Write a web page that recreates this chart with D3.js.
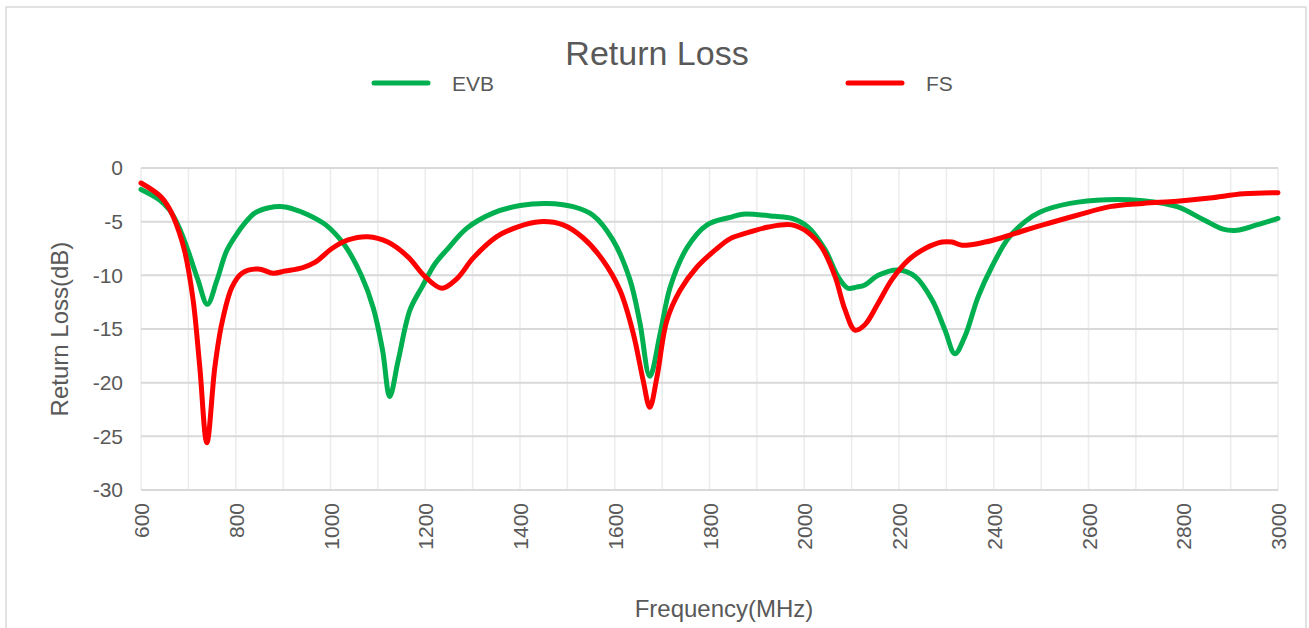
<!DOCTYPE html>
<html>
<head>
<meta charset="utf-8">
<script src="https://cdn.jsdelivr.net/npm/d3@7"></script>
<style>
  html, body { margin: 0; padding: 0; background: #fff; }
  svg { display: block; font-family: "Liberation Sans", Arial, sans-serif; }
</style>
</head>
<body>
<svg id="chart" width="1309" height="628"></svg>
<script>
const chartTitle = "Return Loss";
const xTitle = "Frequency(MHz)";
const yTitle = "Return Loss(dB)";
const seriesNames = ["EVB", "FS"];
const seriesColors = ["#00b050", "#ff0000"];
const xTicks = [600, 800, 1000, 1200, 1400, 1600, 1800, 2000, 2200, 2400, 2600, 2800, 3000];
const yTicks = [0, -5, -10, -15, -20, -25, -30];

const evbFreq = [600, 640, 660, 680, 700, 720, 740, 760, 780, 800, 820, 840, 870, 900, 920, 950, 990, 1030, 1065, 1090, 1110, 1125, 1143, 1168, 1193, 1221, 1246, 1288, 1343, 1400, 1457, 1512, 1554, 1596, 1632, 1653, 1674, 1696, 1717, 1753, 1795, 1843, 1870, 1938, 1974, 2008, 2044, 2071, 2092, 2110, 2128, 2156, 2198, 2234, 2270, 2297, 2318, 2339, 2367, 2396, 2430, 2466, 2498, 2561, 2639, 2715, 2787, 2842, 2884, 2913, 2955, 3000];
const evbVals = [-2.0, -3.0, -3.9, -5.5, -7.8, -10.4, -12.7, -10.5, -7.8, -6.3, -5.1, -4.2, -3.7, -3.6, -3.8, -4.3, -5.3, -7.2, -10.0, -13.0, -17.0, -21.3, -17.9, -13.2, -11.1, -8.9, -7.6, -5.6, -4.2, -3.5, -3.3, -3.6, -4.4, -6.7, -10.4, -14.4, -19.4, -15.4, -11.1, -7.4, -5.3, -4.6, -4.3, -4.5, -4.7, -5.5, -7.6, -10.1, -11.2, -11.1, -10.9, -10.0, -9.5, -10.1, -12.3, -15.1, -17.3, -15.7, -12.0, -9.2, -6.6, -5.0, -4.1, -3.3, -2.95, -3.05, -3.6, -4.8, -5.7, -5.8, -5.3, -4.7];

const fsFreq = [600, 640, 660, 680, 693, 710, 724, 739, 756, 771, 792, 813, 847, 879, 904, 940, 967, 1003, 1037, 1079, 1121, 1164, 1199, 1235, 1267, 1301, 1351, 1394, 1442, 1491, 1533, 1575, 1611, 1639, 1660, 1674, 1689, 1710, 1738, 1774, 1816, 1843, 1875, 1924, 1974, 2008, 2037, 2065, 2086, 2107, 2128, 2156, 2185, 2219, 2255, 2291, 2312, 2333, 2382, 2417, 2466, 2504, 2576, 2645, 2715, 2787, 2856, 2927, 3000];
const fsVals = [-1.4, -2.6, -3.8, -5.9, -7.9, -12.3, -18.5, -25.6, -18.5, -14.4, -11.1, -9.8, -9.4, -9.8, -9.6, -9.3, -8.8, -7.5, -6.7, -6.4, -6.9, -8.3, -10.1, -11.2, -10.3, -8.4, -6.4, -5.5, -5.0, -5.3, -6.5, -8.6, -11.4, -15.4, -19.8, -22.3, -19.5, -14.2, -11.4, -9.2, -7.5, -6.6, -6.1, -5.5, -5.3, -6.0, -7.4, -10.1, -13.2, -15.1, -14.6, -12.6, -10.4, -8.6, -7.5, -6.9, -6.9, -7.2, -6.9, -6.5, -5.8, -5.3, -4.4, -3.6, -3.3, -3.1, -2.8, -2.4, -2.3];

const svg = d3.select("#chart");
const plot = { left: 141, right: 1278, top: 168, bottom: 490 };

// outer border
svg.append("rect").attr("x", 6).attr("y", 7).attr("width", 1300).attr("height", 640)
  .attr("fill", "#fff").attr("stroke", "#d9d9d9").attr("stroke-width", 1.5);

const x = d3.scaleLinear().domain([600, 3000]).range([plot.left, plot.right]);
const y = d3.scaleLinear().domain([-30, 0]).range([plot.bottom, plot.top]);

// vertical grid every 100 MHz
const vGrid = d3.range(600, 3001, 100);
svg.append("g").selectAll("line").data(vGrid).join("line")
  .attr("x1", d => x(d)).attr("x2", d => x(d))
  .attr("y1", plot.top).attr("y2", plot.bottom)
  .attr("stroke", "#ececec").attr("stroke-width", 1.5);

// horizontal grid
svg.append("g").selectAll("line").data(yTicks).join("line")
  .attr("x1", plot.left).attr("x2", plot.right)
  .attr("y1", d => y(d)).attr("y2", d => y(d))
  .attr("stroke", "#d9d9d9").attr("stroke-width", 2);

// y axis labels
const yAxis = d3.axisLeft(y).tickValues(yTicks).tickSize(0).tickPadding(18).tickFormat(d => String(d));
const gy = svg.append("g").attr("transform", `translate(${plot.left},0)`).call(yAxis);
gy.select(".domain").remove();
gy.selectAll("text").attr("fill", "#595959").attr("font-size", 21)
  .attr("font-family", "'Liberation Sans', Arial, sans-serif");

// x axis labels (rotated)
const xAxis = d3.axisBottom(x).tickValues(xTicks).tickSize(0).tickFormat(d => String(d));
const gx = svg.append("g").attr("transform", `translate(0,${plot.bottom})`).call(xAxis);
gx.select(".domain").remove();
gx.selectAll("text")
  .attr("fill", "#595959").attr("font-size", 21)
  .attr("font-family", "'Liberation Sans', Arial, sans-serif")
  .attr("text-anchor", "end")
  .attr("transform", "rotate(-90)")
  .attr("x", -13).attr("y", 0).attr("dy", "0.36em");

// lines
const line = d3.line().x(d => x(d[0])).y(d => y(d[1])).curve(d3.curveCatmullRom.alpha(0.5));
const evbData = evbFreq.map((f, i) => [f, evbVals[i]]);
const fsData = fsFreq.map((f, i) => [f, fsVals[i]]);
[evbData, fsData].forEach((data, i) => {
  svg.append("path").datum(data)
    .attr("d", line)
    .attr("fill", "none")
    .attr("stroke", seriesColors[i])
    .attr("stroke-width", 5)
    .attr("stroke-linejoin", "round")
    .attr("stroke-linecap", "round");
});

// title
svg.append("text").attr("x", 657).attr("y", 65).attr("text-anchor", "middle")
  .attr("font-size", 34).attr("fill", "#595959").text(chartTitle);

// legend
const legendX = [374, 848];
seriesNames.forEach((name, i) => {
  svg.append("line").attr("x1", legendX[i]).attr("x2", legendX[i] + 54)
    .attr("y1", 83).attr("y2", 83)
    .attr("stroke", seriesColors[i]).attr("stroke-width", 5).attr("stroke-linecap", "round");
  svg.append("text").attr("x", legendX[i] + 78).attr("y", 83).attr("dy", "0.36em")
    .attr("font-size", 21).attr("fill", "#595959").text(name);
});

// axis titles
svg.append("text").attr("x", 724).attr("y", 617).attr("text-anchor", "middle")
  .attr("font-size", 24).attr("fill", "#595959").text(xTitle);
svg.append("text").attr("transform", `translate(68,329) rotate(-90)`).attr("text-anchor", "middle")
  .attr("font-size", 24).attr("fill", "#595959").text(yTitle);
</script>
</body>
</html>
